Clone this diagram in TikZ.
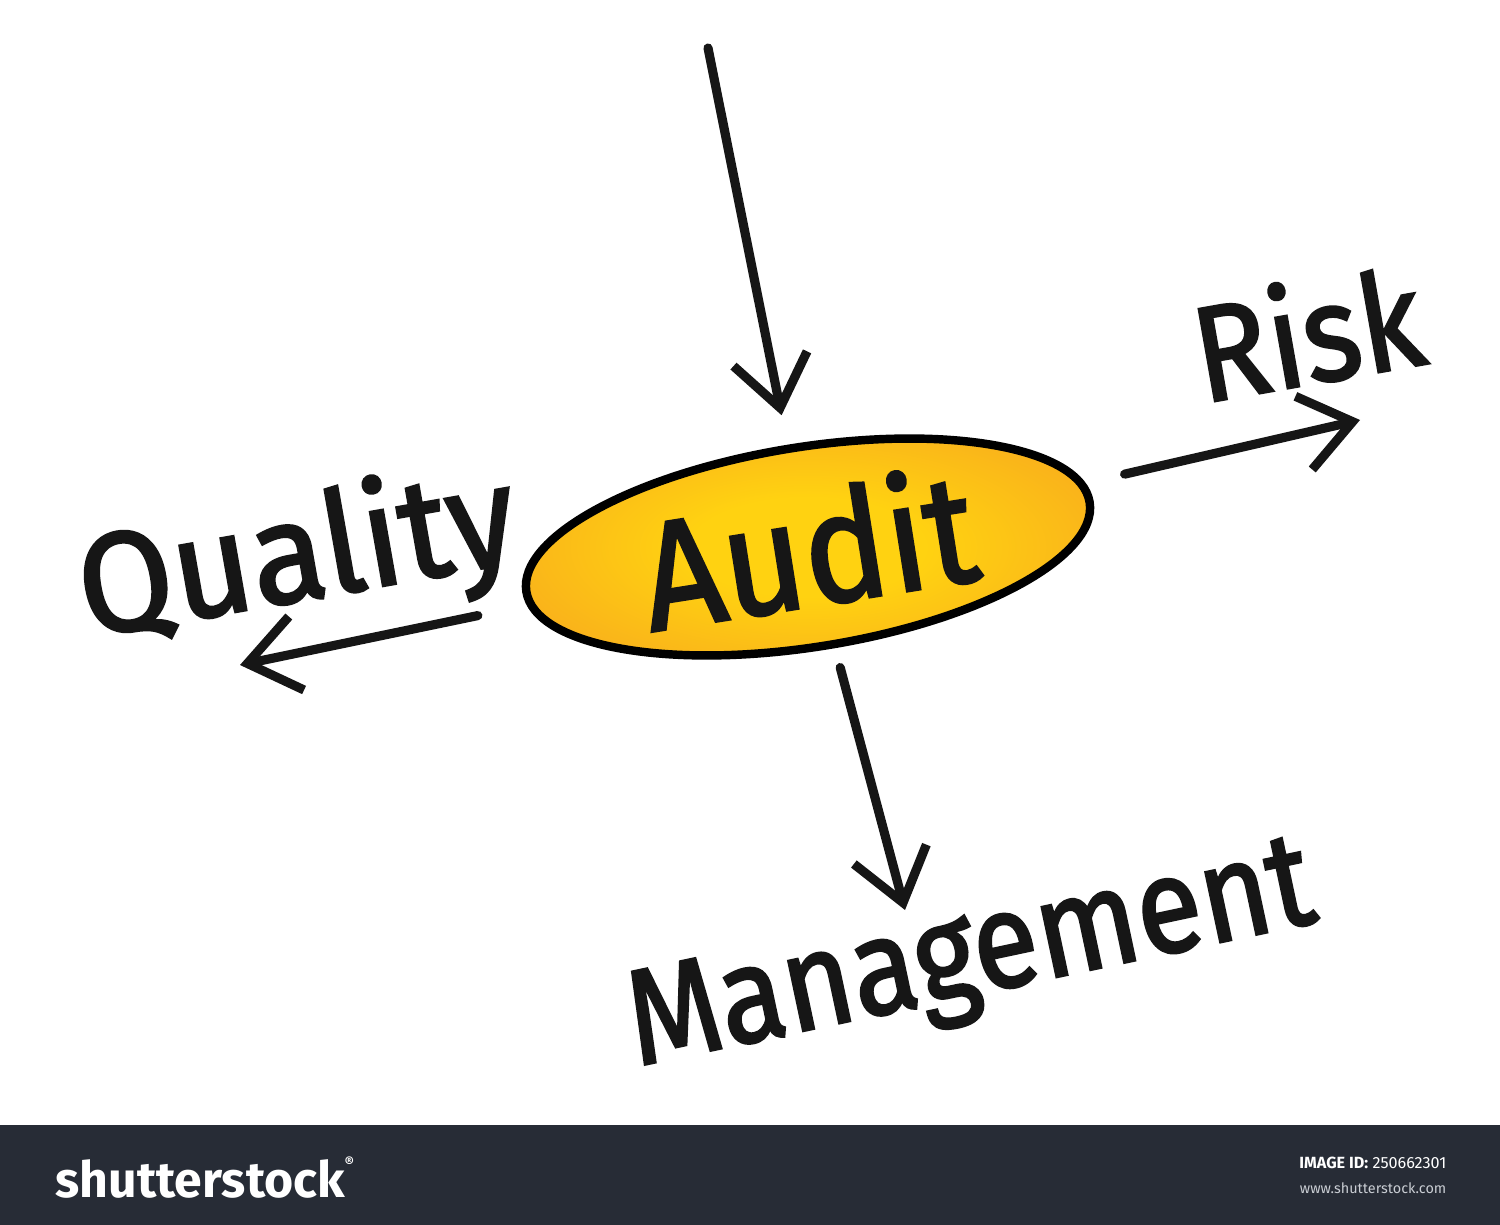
\documentclass[tikz,border=0pt]{standalone}
\usepackage{fontspec}
\setmainfont{Fira Sans}
\newfontfamily\handfont[FakeBold=2]{Fira Sans}
\usetikzlibrary{shapes.geometric,arrows.meta}
\definecolor{inkc}{HTML}{161616}
\definecolor{ellin}{HTML}{FFD211}
\definecolor{ellout}{HTML}{F59A22}
\definecolor{bannerc}{HTML}{272C36}
\definecolor{urlc}{HTML}{C9CDD3}
\pgfdeclareradialshading{audsh}{\pgfpoint{0bp}{0bp}}{color(0bp)=(ellin); color(10bp)=(ellin); color(40bp)=(ellout); color(50bp)=(ellout)}
\begin{document}
\begin{tikzpicture}[x=0.01cm,y=-0.01cm,
  hand/.style={text=inkc, inner sep=0},
  conn/.style={draw=inkc, line width=2.6pt, line cap=round,
    -{Straight Barb[length=5mm,width=7.5mm,line width=2.6pt]}}]
\useasboundingbox (0,0) rectangle (1500,1225);
\fill[white] (0,0) rectangle (1500,1225);
% central ellipse
\node[ellipse, draw=black, line width=2.4pt, shading=audsh, minimum width=5.7cm, minimum height=2cm,
  rotate=9, inner sep=0, text=inkc, font=\handfont\fontsize{38}{38}\selectfont] (audit) at (808,547) {\scalebox{1.05}[1.15]{Audit}};
% labels
\node[hand, rotate=10, font=\handfont\fontsize{36}{36}\selectfont] (quality) at (298,560) {\scalebox{1.08}[1.12]{Quality}};
\node[hand, rotate=10, font=\handfont\fontsize{35}{35}\selectfont] (risk) at (1307,332) {\scalebox{1.0}[1.1]{Risk}};
\node[hand, rotate=12, font=\handfont\fontsize{35}{35}\selectfont] (mgmt) at (972,962) {\scalebox{0.97}[1.1]{Management}};
% connector ends
\coordinate (src) at (708,48);
\coordinate (qend) at (240,665);
\coordinate (rend) at (1360,420);
\coordinate (mend) at (905,910);
\draw[conn, shorten >=0.3cm] (src) -- (audit);
\draw[conn, shorten <=0.4cm] (audit) -- (rend);
\draw[conn, shorten <=0.5cm] (audit) -- (qend);
\draw[conn, shorten <=0.2cm] (audit) -- (mend);
% banner
\fill[bannerc] (0,1125) rectangle (1500,1225);
\node[anchor=base west, text=white, inner sep=0, font=\fontsize{14.2}{15}\bfseries\selectfont] (logo) at (55,1197) {shutterstock\raisebox{1.1ex}{\fontsize{4}{4}\selectfont ®}};
\node[anchor=base east, text=white, inner sep=0, font=\fontsize{4.6}{5}\selectfont] (imgid) at (1447,1168) {\textbf{IMAGE ID:} 250662301};
\node[anchor=base east, text=urlc, inner sep=0, font=\fontsize{4.1}{5}\selectfont] (url) at (1447,1193) {www.shutterstock.com};
\end{tikzpicture}
\end{document}
